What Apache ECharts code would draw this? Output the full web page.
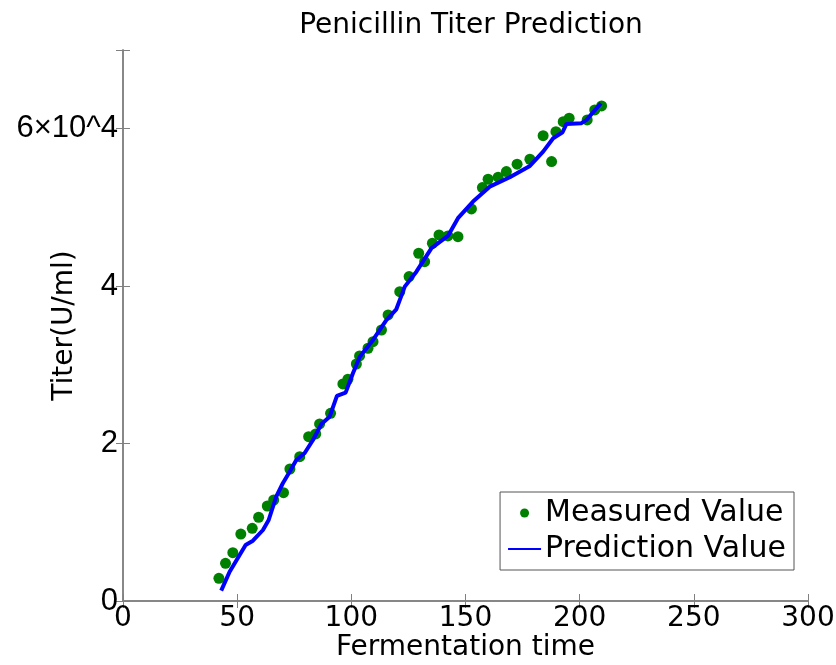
<!DOCTYPE html>
<html>
<head>
<meta charset="utf-8">
<script src="https://cdn.jsdelivr.net/npm/echarts@6/dist/echarts.min.js"></script>
<style>html,body{margin:0;padding:0;background:#fff}#c{width:836px;height:665px}</style>
</head>
<body>
<div id="c"></div>
<script>
// Measured values (time, titer in 1e4 U/ml)
const measuredTime = [42.0,44.9,48.1,51.6,56.6,59.4,63.2,66.0,70.3,73.1,77.4,81.3,84.4,86.1,90.9,96.3,98.5,102.2,103.6,107.3,109.5,113.2,116.1,121.2,125.3,129.5,132.1,135.5,138.4,142.3,146.7,152.6,157.4,159.9,164.3,167.9,172.6,178.2,184.0,187.7,189.6,192.8,195.4,203.3,206.6,209.6];
const measuredTiter = [0.288,0.479,0.614,0.851,0.924,1.064,1.207,1.283,1.376,1.677,1.834,2.088,2.122,2.249,2.385,2.757,2.817,3.011,3.113,3.211,3.295,3.443,3.634,3.930,4.121,4.418,4.311,4.545,4.651,4.638,4.629,4.981,5.252,5.358,5.384,5.455,5.549,5.612,5.912,5.582,5.963,6.090,6.133,6.112,6.239,6.290];
// Prediction values
const predTime = [43.0,46.7,53.7,56.9,61.3,63.8,67.1,70.0,73.0,75.9,79.5,83.2,86.9,90.5,93.7,97.5,100.7,103.7,109.5,115.4,119.7,123.4,128.5,135.1,142.3,146.7,153.3,160.6,169.4,178.2,184.0,188.4,192.5,194.2,200.8,203.0,209.3];
const predTiter = [0.131,0.372,0.712,0.766,0.902,1.029,1.325,1.496,1.643,1.792,1.877,2.046,2.249,2.342,2.605,2.647,2.893,3.104,3.316,3.571,3.706,3.994,4.184,4.482,4.638,4.863,5.074,5.264,5.384,5.527,5.709,5.879,5.955,6.061,6.070,6.112,6.324];
const yTickLabels = {0:'0',2:'2',4:'4',6:'6×10^4'};

const chart = echarts.init(document.getElementById('c'));
const font = '"DejaVu Sans", sans-serif';
const yFont = '"Liberation Sans", Arial, sans-serif';
const axisColor = '#808080';
chart.setOption({
  animation:false,
  title:{text:'Penicillin Titer Prediction',left:466,textAlign:'center',top:7,
    textStyle:{fontFamily:font,fontSize:28,fontWeight:'normal',color:'#000'}},
  grid:{left:123,right:28,top:50,bottom:64,outerBoundsMode:'none',containLabel:false},
  legend:{orient:'vertical',right:42,bottom:95,
    backgroundColor:'#fff',borderColor:'#555',borderWidth:1,borderRadius:0,padding:[6,8,6,7],itemGap:6,
    itemWidth:33,itemHeight:9,
    textStyle:{fontFamily:font,fontSize:30,color:'#000',padding:[0,0,0,-1]},
    data:[{name:'Measured Value',icon:'circle'},{name:'Prediction Value',itemStyle:{opacity:0}}]},
  xAxis:[{type:'value',min:0,max:300,interval:50,
    axisLine:{lineStyle:{color:axisColor,width:1.5}},
    axisTick:{inside:true,length:7,lineStyle:{color:axisColor}},
    splitLine:{show:false},
    axisLabel:{fontFamily:font,fontSize:28,color:'#000',margin:4},
    name:'Fermentation time',nameLocation:'middle',nameGap:33,nameMoveOverlap:false,
    nameTextStyle:{fontFamily:font,fontSize:28,color:'#000'}},
    {type:'value',position:'top',min:0,max:300,interval:50,
    axisLine:{lineStyle:{color:axisColor,width:1.5}},
    axisTick:{inside:true,length:7,lineStyle:{color:axisColor}},
    splitLine:{show:false},axisLabel:{show:false}}],
  yAxis:[{type:'value',min:0,max:7,interval:2,
    axisLine:{lineStyle:{color:axisColor,width:1.5}},
    axisTick:{inside:true,length:7,lineStyle:{color:axisColor}},
    splitLine:{show:false},
    axisLabel:{fontFamily:yFont,fontSize:31,color:'#000',margin:5,
      formatter:v=>yTickLabels[v]!==undefined?yTickLabels[v]:''},
    name:'Titer(U/ml)',nameLocation:'middle',nameGap:44,nameRotate:90,nameMoveOverlap:false,
    nameTextStyle:{fontFamily:font,fontSize:28,color:'#000'}},
    {type:'value',position:'right',min:0,max:7,interval:2,
    axisLine:{show:true,lineStyle:{color:axisColor,width:1.5}},
    axisTick:{inside:true,length:7,lineStyle:{color:axisColor}},
    splitLine:{show:false},axisLabel:{show:false}}],
  series:[
    {name:'Measured Value',type:'scatter',symbol:'circle',symbolSize:11,
     itemStyle:{color:'#008000',opacity:1},
     data:measuredTime.map((t,i)=>[t,measuredTiter[i]])},
    {name:'Prediction Value',type:'line',showSymbol:false,symbol:'none',
     lineStyle:{color:'#0000ff',width:4},itemStyle:{color:'#0000ff'},
     data:predTime.map((t,i)=>[t,predTiter[i]])}
  ]
});
</script>
</body>
</html>
